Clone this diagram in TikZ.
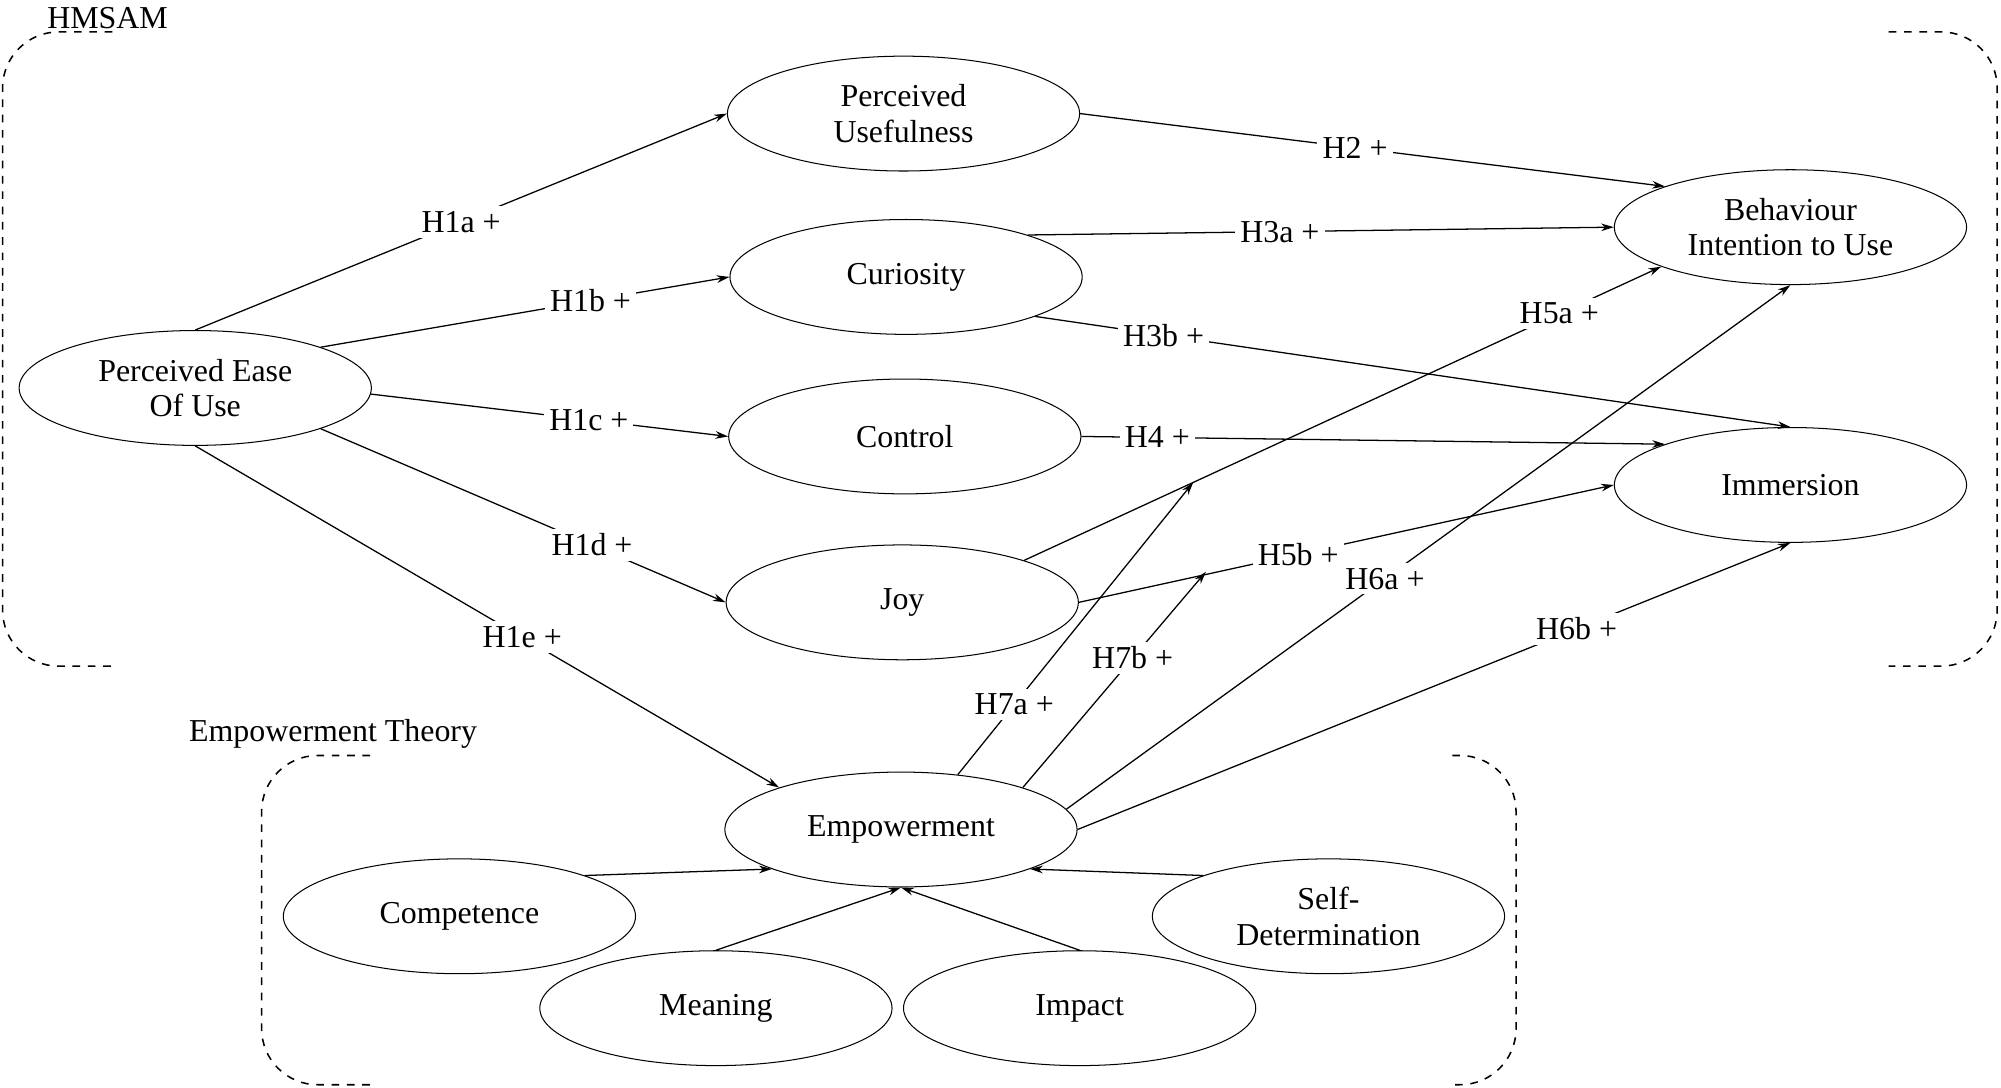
\documentclass[tikz,border=0pt]{standalone}
\usepackage{fontspec}
\setmainfont{Liberation Serif}
\usetikzlibrary{shapes.geometric,arrows.meta}
\begin{document}
\begin{tikzpicture}[x=0.5pt,y=-0.5pt,
  el/.style={draw,ellipse,minimum width=138pt,minimum height=45pt,align=center,inner sep=0pt,font=\fontsize{12.5}{14}\selectfont},
  ar/.style={-{Stealth[length=5pt,width=3pt]},line width=0.5pt},
  lbl/.style={fill=white,inner sep=2pt,font=\fontsize{12.5}{14}\selectfont},
  br/.style={dashed,line width=0.6pt,rounded corners=22pt}]
\useasboundingbox (0,0) rectangle (1568,852);
\node[el] (peou) at (153,304) {Perceived Ease\\Of Use};
\node[el] (pu) at (708,89) {Perceived\\Usefulness};
\node[el] (cur) at (710,217) {Curiosity};
\node[el] (con) at (709,342) {Control};
\node[el] (joy) at (707,472) {Joy};
\node[el] (bi) at (1403,178) {Behaviour\\Intention to Use};
\node[el] (imm) at (1403,380) {Immersion};
\node[el] (emp) at (706,650) {Empowerment};
\node[el] (comp) at (360,718) {Competence};
\node[el] (mean) at (561,790) {Meaning};
\node[el] (imp) at (846,790) {Impact};
\node[el] (sd) at (1041,718) {Self-\\Determination};
\coordinate (m1) at (935,378);
\coordinate (m2) at (945,448);
\node[font=\fontsize{12.5}{14}\selectfont,anchor=west] (hm) at (30,14) {HMSAM};
\node[font=\fontsize{12.5}{14}\selectfont] (et) at (261,575) {Empowerment Theory};
\draw[br] (88,25) -| (2,522) -- (88,522);
\draw[br] (1480,25) -| (1565,522) -- (1480,522);
\draw[br] (290,592) -| (205,850) -- (290,850);
\draw[br] (1138,592) -| (1188,850) -- (1138,850);
\draw[ar] (peou.north) -- node[lbl,pos=0.5]{H1a +} (pu.west);
\draw[ar] (peou.18) -- node[lbl,pos=0.66]{H1b +} (cur.west);
\draw[ar] (peou.-2) -- node[lbl,pos=0.61]{H1c +} (con.west);
\draw[ar] (peou.-18) -- node[lbl,pos=0.67]{H1d +} (joy.west);
\draw[ar] (peou.south) -- node[lbl,pos=0.56]{H1e +} (emp.161);
\draw[ar] (pu.east) -- node[lbl,pos=0.47]{H2 +} (bi.162);
\draw[ar] (cur.19) -- node[lbl,pos=0.43]{H3a +} (bi.west);
\draw[ar] (cur.-17) -- node[lbl,pos=0.17]{H3b +} (imm.north);
\draw[ar] (con.east) -- node[lbl,pos=0.13]{H4 +} (imm.162);
\draw[ar] (joy.19) -- node[lbl,pos=0.84]{H5a +} (bi.197);
\draw[ar] (joy.east) -- node[lbl,pos=0.41]{H5b +} (imm.west);
\draw[ar] (emp.7) -- node[lbl,pos=0.44]{H6a +} (bi.south);
\draw[ar] (emp.0) -- node[lbl,pos=0.7]{H6b +} (imm.south);
\draw[ar] (emp.44) -- node[lbl,pos=0.24]{H7a +} (m1);
\draw[ar] (emp.19) -- node[lbl,pos=0.6]{H7b +} (m2);
\draw[ar] (comp.18) -- (emp.197);
\draw[ar] (mean.north) -- (emp.south);
\draw[ar] (imp.north) -- (emp.south);
\draw[ar] (sd.162) -- (emp.-17);
\end{tikzpicture}
\end{document}
